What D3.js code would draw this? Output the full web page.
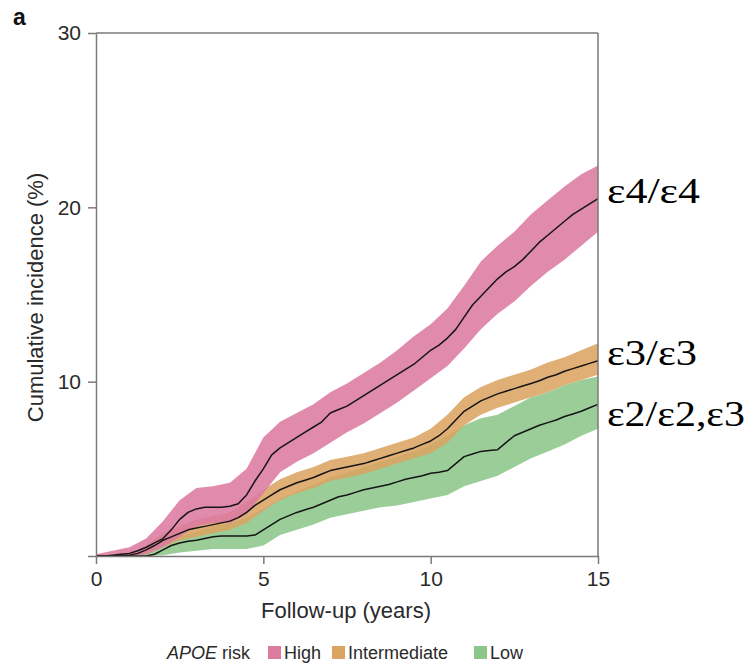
<!DOCTYPE html>
<html>
<head>
<meta charset="utf-8">
<script src="https://cdn.jsdelivr.net/npm/d3@7"></script>
<style>
  body { margin: 0; background: #fff; }
  svg { display: block; }
  .axis text { font-family: "Liberation Sans", Arial, sans-serif; font-size: 21px; fill: #2a2a2a; }
  .axis path, .axis line { stroke: #7a7a7a; stroke-width: 1.5px; }
</style>
</head>
<body>
<svg id="chart" width="750" height="665"></svg>
<script>
// follow-up time grid (years) for the estimates
var years = [0,0.25,0.5,0.75,1,1.25,1.5,1.75,2,2.25,2.5,2.75,3,3.25,3.5,3.75,4,4.25,4.5,4.75,
             5,5.25,5.5,5.75,6,6.25,6.5,6.75,7,7.25,7.5,7.75,8,8.25,8.5,8.75,9,9.25,9.5,9.75,
             10,10.25,10.5,10.75,11,11.25,11.5,11.75,12,12.25,12.5,12.75,13,13.25,13.5,13.75,
             14,14.25,14.5,14.75,15];

// time grid for the confidence bands
var bandYears = [0,0.5,1,1.5,2,2.5,3,3.5,4,4.5,5,5.5,6,6.5,7,7.5,8,8.5,9,9.5,10,10.5,11,11.5,12,12.5,13,13.5,14,14.5,15];

// cumulative incidence (%) - High risk (e4/e4)
var highEst = [0,0,0.05,0.1,0.15,0.3,0.5,0.75,1.0,1.5,2.1,2.5,2.7,2.8,2.8,2.8,2.85,3.0,3.5,4.3,
               5.0,5.8,6.2,6.5,6.8,7.1,7.4,7.7,8.2,8.4,8.6,8.9,9.2,9.5,9.8,10.1,10.4,10.7,11.0,11.4,
               11.8,12.1,12.5,13.0,13.7,14.4,14.9,15.4,15.9,16.3,16.6,17.0,17.5,18.0,18.4,18.8,
               19.2,19.6,19.9,20.2,20.5];
var highLo = [0,0,0,0.1,0.5,1.1,1.7,1.9,1.9,2.4,3.6,4.8,5.4,5.9,6.5,7.1,7.6,8.2,8.8,9.5,10.2,10.9,11.9,13.0,13.9,14.6,15.5,16.3,17.0,17.8,18.6];
var highHi = [0.1,0.3,0.5,1.0,2.0,3.2,3.9,4.0,4.2,5.0,6.8,7.7,8.2,8.7,9.4,9.9,10.5,11.1,11.8,12.6,13.3,14.2,15.5,16.9,17.8,18.6,19.6,20.4,21.2,21.9,22.4];

// Intermediate risk (e3/e3)
var midEst = [0,0,0,0,0.05,0.15,0.35,0.6,0.9,1.1,1.3,1.5,1.6,1.7,1.8,1.9,2.0,2.2,2.5,2.9,
              3.2,3.5,3.8,4.0,4.2,4.35,4.5,4.7,4.9,5.0,5.1,5.2,5.3,5.45,5.6,5.75,5.9,6.05,6.2,6.4,
              6.6,6.9,7.3,7.8,8.3,8.6,8.9,9.1,9.3,9.45,9.6,9.75,9.9,10.05,10.25,10.4,
              10.6,10.75,10.9,11.05,11.2];
var midLo = [0,0,0,0.1,0.5,0.9,1.1,1.3,1.5,1.9,2.6,3.2,3.6,3.9,4.3,4.5,4.7,5.0,5.3,5.6,5.9,6.5,7.5,8.1,8.5,8.8,9.1,9.4,9.8,10.1,10.4];
var midHi = [0,0,0.2,0.6,1.3,1.7,2.1,2.3,2.5,3.1,3.8,4.4,4.8,5.1,5.5,5.7,5.9,6.2,6.5,6.8,7.3,8.1,9.1,9.7,10.1,10.4,10.7,11.1,11.4,11.8,12.2];

// Low risk (e2/e2, e2/e3)
var lowEst = [0,0,0,0,0,0,0,0.1,0.35,0.6,0.75,0.85,0.9,1.0,1.1,1.15,1.15,1.15,1.15,1.2,
              1.5,1.8,2.1,2.3,2.5,2.65,2.8,3.0,3.2,3.4,3.5,3.65,3.8,3.9,4.0,4.1,4.25,4.4,4.5,4.6,
              4.75,4.8,4.9,5.3,5.7,5.85,6.0,6.05,6.1,6.5,6.9,7.1,7.3,7.5,7.65,7.8,
              8.0,8.15,8.3,8.5,8.7];
var lowLo = [0,0,0,0,0.05,0.2,0.3,0.4,0.4,0.4,0.6,1.2,1.5,1.8,2.2,2.4,2.6,2.8,2.9,3.1,3.3,3.5,4.0,4.3,4.6,5.1,5.6,6.0,6.4,6.9,7.3];
var lowHi = [0,0,0,0.2,0.7,1.1,1.4,1.7,1.9,2.2,2.7,3.3,3.7,4.1,4.5,4.8,5.1,5.4,5.7,6.0,6.4,6.9,7.5,7.9,8.1,8.6,9.1,9.4,9.8,10.1,10.3];

var groups = ["High", "Intermediate", "Low"];
var genotypes = ["ε4/ε4", "ε3/ε3", "ε2/ε2,ε3"];
var colors = ["#dc7aa0", "#dba462", "#8dc68b"];
var xTicks = [0, 5, 10, 15];
var yTicks = [0, 10, 20, 30];

(function() {
  var svg = d3.select("#chart");
  var pLeft = 96, pRight = 598, pTop = 33, pBottom = 556;
  var sans = "Liberation Sans, Arial, sans-serif";

  var x = d3.scaleLinear().domain([0, 15]).range([pLeft, pRight]);
  var y = d3.scaleLinear().domain([0, 30]).range([pBottom, pTop]);

  var series = [
    {est: highEst, lo: highLo, hi: highHi, color: colors[0], label: genotypes[0]},
    {est: midEst, lo: midLo, hi: midHi, color: colors[1], label: genotypes[1]},
    {est: lowEst, lo: lowLo, hi: lowHi, color: colors[2], label: genotypes[2]}
  ];

  var area = d3.area()
    .x(function(d) { return x(d.t); })
    .y0(function(d) { return y(d.lo); })
    .y1(function(d) { return y(d.hi); })
    .curve(d3.curveLinear);

  var line = d3.line()
    .x(function(d) { return x(d.t); })
    .y(function(d) { return y(d.v); })
    .curve(d3.curveLinear);

  // bands, low first so the others sit on top
  var bands = svg.append("g");
  series.slice().reverse().forEach(function(s) {
    var pts = bandYears.map(function(t, i) { return {t: t, lo: s.lo[i], hi: s.hi[i]}; });
    bands.append("path").attr("d", area(pts))
      .attr("fill", s.color).attr("fill-opacity", 0.88);
  });

  var lines = svg.append("g");
  series.forEach(function(s) {
    var pts = years.map(function(t, i) { return {t: t, v: s.est[i]}; });
    lines.append("path").attr("d", line(pts))
      .attr("fill", "none").attr("stroke", "#151515").attr("stroke-width", 1.5)
      .attr("stroke-linejoin", "round");
  });

  // axes
  svg.append("g").attr("class", "axis")
    .attr("transform", "translate(0," + pBottom + ")")
    .call(d3.axisBottom(x).tickValues(xTicks).tickSize(8).tickSizeOuter(0).tickPadding(7));

  svg.append("g").attr("class", "axis")
    .attr("transform", "translate(" + pLeft + ",0)")
    .call(d3.axisLeft(y).tickValues(yTicks).tickSize(8).tickSizeOuter(0).tickPadding(7)
      .tickFormat(function(d) { return d === 0 ? "" : d; }));

  // frame top and right
  svg.append("line").attr("x1", pLeft).attr("x2", pRight).attr("y1", pTop).attr("y2", pTop)
    .attr("stroke", "#7a7a7a").attr("stroke-width", 1.5);
  svg.append("line").attr("x1", pRight).attr("x2", pRight).attr("y1", pTop).attr("y2", pBottom)
    .attr("stroke", "#7a7a7a").attr("stroke-width", 1.5);

  // axis titles
  svg.append("text").attr("x", 346).attr("y", 618).attr("text-anchor", "middle")
    .style("font-family", sans).style("font-size", "22px").style("fill", "#2a2a2a")
    .text("Follow-up (years)");

  svg.append("text").attr("transform", "translate(43," + ((pTop + pBottom) / 2 + 3) + ") rotate(-90)")
    .attr("text-anchor", "middle")
    .style("font-family", sans).style("font-size", "22px").style("fill", "#2a2a2a")
    .text("Cumulative incidence (%)");

  // panel letter
  svg.append("text").attr("x", 13).attr("y", 25)
    .style("font-family", sans).style("font-size", "23px")
    .style("font-weight", "bold").style("fill", "#111").text("a");

  // genotype labels at curve ends
  var labelY = [203, 365, 426];
  var labelW = [93, 90, 138];
  series.forEach(function(s, i) {
    svg.append("text").attr("x", 607).attr("y", labelY[i])
      .attr("textLength", labelW[i]).attr("lengthAdjust", "spacingAndGlyphs")
      .style("font-family", "Liberation Serif, Times New Roman, serif").style("font-size", "35px")
      .style("fill", "#000").text(s.label);
  });

  // legend
  var leg = svg.append("g").style("font-family", sans)
    .style("font-size", "18px").style("fill", "#2a2a2a");
  var lt = leg.append("text").attr("x", 167).attr("y", 659);
  lt.append("tspan").style("font-style", "italic").text("APOE");
  lt.append("tspan").text(" risk");
  var swX = [268, 332, 474];
  groups.forEach(function(g, i) {
    leg.append("rect").attr("x", swX[i]).attr("y", 646).attr("width", 13).attr("height", 13)
      .attr("fill", colors[i]);
    leg.append("text").attr("x", swX[i] + 16).attr("y", 659).text(g);
  });
})();
</script>
</body>
</html>
